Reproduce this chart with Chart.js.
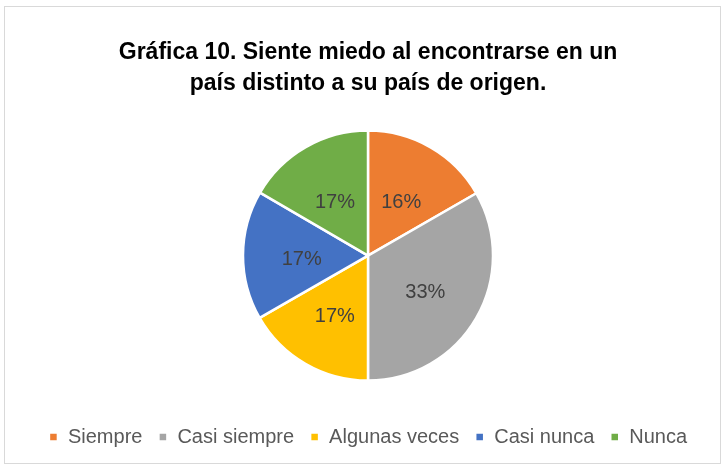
<!DOCTYPE html>
<html>
<head>
<meta charset="utf-8">
<script src="https://cdn.jsdelivr.net/npm/chart.js@4.4.0/dist/chart.umd.min.js"></script>
<style>
  html, body { margin: 0; padding: 0; background: #fff; }
  #wrap { width: 725px; height: 469px; }
</style>
</head>
<body>
<div id="wrap"><canvas id="pie" width="725" height="469"></canvas></div>
<script>
// data (slice sizes from the angles, printed labels as shown)
var categories = ['Siempre', 'Casi siempre', 'Algunas veces', 'Casi nunca', 'Nunca'];
var values = [16.7, 33.3, 16.7, 16.7, 16.6];
var pctLabels = ['16%', '33%', '17%', '17%', '17%'];
var colors = ['#ED7D31', '#A5A5A5', '#FFC000', '#4472C4', '#70AD47'];
var titleLines = ['Gráfica 10. Siente miedo al encontrarse en un', 'país distinto a su país de origen.'];

var FONT = "'Liberation Sans', Arial, sans-serif";

// light gray frame around the whole chart
var framePlugin = {
    id: 'frame',
    beforeDraw: function(chart) {
        var c = chart.ctx;
        c.save();
        c.fillStyle = '#fff';
        c.fillRect(0, 0, chart.width, chart.height);
        c.strokeStyle = '#D9D9D9';
        c.lineWidth = 1;
        c.strokeRect(4.5, 6.5, 716, 457);
        c.restore();
    }
};

// percentage labels inside the slices
var sliceLabels = {
    id: 'sliceLabels',
    afterDatasetsDraw: function(chart) {
        var c = chart.ctx;
        var meta = chart.getDatasetMeta(0);
        c.save();
        c.fillStyle = '#404040';
        c.font = '20px ' + FONT;
        c.textAlign = 'center';
        c.textBaseline = 'middle';
        meta.data.forEach(function(arc, i) {
            var mid = (arc.startAngle + arc.endAngle) / 2;
            var r = arc.outerRadius * 0.53;
            c.fillText(pctLabels[i], arc.x + Math.cos(mid) * r, arc.y + Math.sin(mid) * r + 4);
        });
        c.restore();
    }
};

var ctx = document.getElementById('pie').getContext('2d');
var myPie = new Chart(ctx, {
    type: 'pie',
    data: {
        labels: categories,
        datasets: [{
            data: values,
            backgroundColor: colors,
            borderColor: '#fff',
            borderWidth: 2.5,
            radius: 125
        }]
    },
    options: {
        responsive: false,
        animation: false,
        layout: { padding: { left: 11, right: 0, top: 0, bottom: 12 } },
        plugins: {
            title: {
                display: true,
                text: titleLines,
                color: '#000',
                font: { family: FONT, size: 23, weight: 'bold', lineHeight: 1.35 },
                padding: { top: 37, bottom: 1 }
            },
            legend: {
                position: 'bottom',
                labels: {
                    color: '#595959',
                    font: { family: FONT, size: 20 },
                    usePointStyle: true,
                    pointStyle: 'rect',
                    boxWidth: 9,
                    boxHeight: 9,
                    padding: 16
                }
            },
            tooltip: { enabled: false }
        }
    },
    plugins: [framePlugin, sliceLabels]
});
</script>
</body>
</html>
